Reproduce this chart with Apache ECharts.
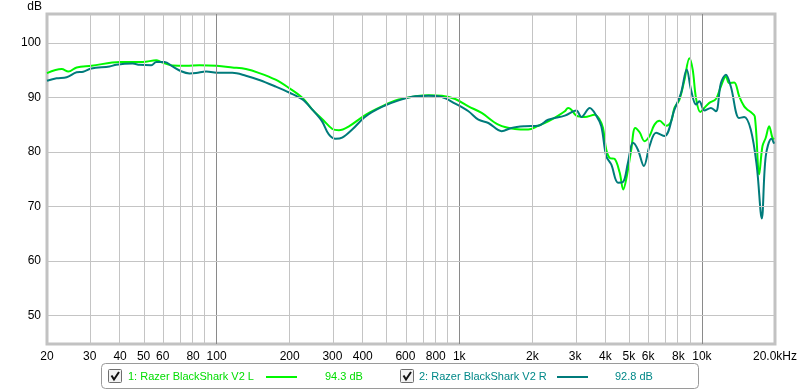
<!DOCTYPE html>
<html>
<head>
<meta charset="utf-8">
<script src="https://cdn.jsdelivr.net/npm/echarts@6/dist/echarts.min.js"></script>
<style>html,body{margin:0;padding:0;background:#fff}#c{width:800px;height:391px}</style>
</head>
<body>
<div id="c"></div>
<script>
// ---- data (frequency in Hz, level in dB) ----
const seriesNames = ['1: Razer BlackShark V2 L', '2: Razer BlackShark V2 R'];
const seriesAvg = ['94.3 dB', '92.8 dB'];

const freqL = [20, 23, 24.5, 26.5, 30.5, 40, 49.6, 56.4, 59, 65.8, 75, 85, 100, 116, 132, 150, 175, 199, 226, 248, 272, 300, 319, 351, 411, 480, 563, 659, 747, 848, 962, 1091, 1237, 1449, 1697, 1924, 2115, 2325, 2556, 2722, 2809, 2897, 3037, 3289, 3615, 3790, 3911, 4034, 4166, 4369, 4581, 4740, 4876, 5112, 5309, 5535, 5801, 6081, 6376, 6687, 7118, 7461, 7705, 8077, 8468, 8880, 9161, 9450, 9850, 10230, 10725, 11415, 11967, 12546, 12955, 13585, 14240, 14930, 15405, 15890, 16510, 17210, 17755, 18320, 18920, 19515, 19830];
const dbL = [94.46, 95.2, 94.75, 95.5, 95.8, 96.5, 96.5, 96.8, 96.5, 95.85, 95.8, 95.9, 95.8, 95.5, 95.2, 94.46, 93.24, 91.7, 89.9, 87.75, 86.05, 84.2, 83.97, 84.7, 86.8, 88.35, 89.6, 90.2, 90.4, 90.3, 89.7, 88.35, 87.15, 85.0, 84.2, 84.1, 84.8, 85.6, 86.65, 87.45, 88.06, 87.75, 86.65, 86.4, 86.8, 85.9, 84.4, 80.4, 78.9, 78.7, 76.2, 73.1, 75.0, 80.4, 84.4, 83.6, 81.95, 82.9, 85.0, 85.7, 84.8, 85.6, 88.06, 89.6, 93.2, 97.2, 95.1, 89.9, 87.3, 88.06, 89.0, 89.7, 92.0, 93.84, 92.6, 92.75, 90.2, 88.35, 87.75, 87.3, 86.5, 75.9, 81.04, 82.6, 84.7, 82.6, 82.3];

const freqR = [20, 21.9, 24.1, 26.5, 28.2, 30.5, 36.2, 38.6, 45.1, 48.1, 53.8, 56.4, 61, 65.8, 71.4, 77.3, 82.3, 90.5, 102.6, 116, 132, 150, 175, 199, 226, 248, 272, 290, 309, 329, 362, 411, 480, 563, 659, 747, 848, 962, 1091, 1199, 1318, 1495, 1643, 1865, 2115, 2325, 2722, 3037, 3185, 3449, 3670, 3848, 4034, 4230, 4508, 4726, 4955, 5195, 5446, 5764, 6081, 6474, 7011, 7705, 8201, 8655, 9015, 9450, 9757, 10230, 10890, 11415, 11967, 12546, 13153, 14240, 14930, 15890, 16825, 17640, 18320, 19330, 19830];
const dbR = [93.05, 93.5, 93.7, 94.6, 94.7, 95.3, 95.67, 96.0, 96.2, 95.98, 95.9, 96.5, 96.5, 95.67, 94.8, 94.4, 94.46, 94.76, 94.5, 94.5, 93.97, 93.2, 92.0, 90.9, 89.6, 87.75, 85.6, 83.2, 82.4, 82.6, 84.1, 86.5, 88.25, 89.45, 90.2, 90.3, 90.07, 88.85, 87.45, 85.9, 85.3, 83.8, 84.4, 84.7, 84.8, 85.9, 86.65, 87.6, 86.4, 88.06, 86.65, 84.7, 79.2, 77.7, 74.35, 74.46, 78.0, 81.66, 80.4, 77.4, 81.04, 83.5, 82.9, 87.75, 90.8, 95.1, 91.4, 88.7, 89.3, 87.6, 88.06, 87.45, 92.6, 94.15, 92.0, 86.2, 86.4, 84.1, 77.4, 67.8, 79.2, 82.4, 81.5];

// axis ticks
const xLabelFreqs = [20, 30, 40, 50, 60, 80, 100, 200, 300, 400, 600, 800, 1000, 2000, 3000, 4000, 5000, 6000, 8000, 10000, 20000];
const xLabelTexts = ['20', '30', '40', '50', '60', '80', '100', '200', '300', '400', '600', '800', '1k', '2k', '3k', '4k', '5k', '6k', '8k', '10k', '20.0kHz'];
const xMinorGrid = [30, 40, 50, 60, 70, 80, 90, 200, 300, 400, 500, 600, 700, 800, 900, 2000, 3000, 4000, 5000, 6000, 7000, 8000, 9000];
const xMajorGrid = [100, 1000, 10000];
const yTicks = [50, 60, 70, 80, 90, 100];
const fMin = 20, fMax = 20000, dbMin = 44.75, dbMax = 105.3;

const GREEN = '#00f800', TEAL = '#007b7b';
const GREEN_T = '#00dd00', TEAL_T = '#008888';
const FONT = 'Liberation Sans';

const lg = Math.log10;
const toPts = (f, d) => f.map((v, i) => [lg(v), d[i]]);
const labelMap = {};
xLabelFreqs.forEach((f, i) => { labelMap[f] = xLabelTexts[i]; });

const chart = echarts.init(document.getElementById('c'), null, {renderer: 'canvas'});

const gridLines = [];
xMinorGrid.forEach(f => gridLines.push({xAxis: lg(f), lineStyle: {color: '#c4c4c4', width: 1, type: 'solid'}}));
xMajorGrid.forEach(f => gridLines.push({xAxis: lg(f), lineStyle: {color: '#8a8a8a', width: 1, type: 'solid'}}));
yTicks.forEach(v => gridLines.push({yAxis: v, lineStyle: {color: '#c4c4c4', width: 1, type: 'solid'}}));

// legend (drawn as graphic)
function checkbox(x, y) {
  return [
    {type: 'rect', shape: {x: x, y: y, width: 13, height: 13, r: 1}, style: {fill: '#f2f2f2', stroke: '#6e6e6e', lineWidth: 1}},
    {type: 'polyline', shape: {points: [[x + 3, y + 6], [x + 5.5, y + 10], [x + 10.5, y + 2.5]]}, style: {stroke: '#111', lineWidth: 2, fill: null}}
  ];
}
const ly = 377;
const LFONT = '11px ' + FONT;
const graphic = [
  {type: 'rect', shape: {x: 101.5, y: 363.5, width: 597, height: 25, r: 4}, style: {fill: '#fff', stroke: '#9a9a9a', lineWidth: 1}},
  ...checkbox(108.5, 369.5),
  {type: 'text', x: 128, y: ly, style: {text: seriesNames[0], fill: GREEN_T, font: LFONT, verticalAlign: 'middle'}},
  {type: 'line', shape: {x1: 266, y1: ly, x2: 297, y2: ly}, style: {stroke: GREEN, lineWidth: 2}},
  {type: 'text', x: 325, y: ly, style: {text: seriesAvg[0], fill: GREEN_T, font: LFONT, verticalAlign: 'middle'}},
  ...checkbox(400.5, 369.5),
  {type: 'text', x: 419, y: ly, style: {text: seriesNames[1], fill: TEAL_T, font: LFONT, verticalAlign: 'middle'}},
  {type: 'line', shape: {x1: 557, y1: ly, x2: 588, y2: ly}, style: {stroke: TEAL, lineWidth: 2}},
  {type: 'text', x: 615, y: ly, style: {text: seriesAvg[1], fill: TEAL_T, font: LFONT, verticalAlign: 'middle'}}
];

chart.setOption({
  animation: false,
  backgroundColor: '#fff',
  textStyle: {fontFamily: FONT},
  grid: {left: 47, right: 22, top: 14, bottom: 47, show: true, borderColor: '#c2c2c2', borderWidth: 3, backgroundColor: '#fff'},
  xAxis: {
    type: 'value', min: lg(fMin), max: lg(fMax),
    axisLine: {show: false}, axisTick: {show: false}, splitLine: {show: false},
    axisLabel: {
      customValues: xLabelFreqs.map(lg),
      formatter: v => labelMap[Math.round(Math.pow(10, v))] || '',
      color: '#000', fontSize: 12, fontFamily: FONT, margin: 7, showMinLabel: true, showMaxLabel: true, hideOverlap: false
    }
  },
  yAxis: {
    type: 'value', min: dbMin, max: dbMax,
    name: 'dB', nameLocation: 'end', nameGap: 1,
    nameTextStyle: {color: '#000', fontSize: 12, fontFamily: FONT, align: 'right', padding: [0, 5, 0, 0]},
    axisLine: {show: false}, axisTick: {show: false}, splitLine: {show: false},
    axisLabel: {customValues: yTicks, formatter: v => String(Math.round(v)), color: '#000', fontSize: 12, fontFamily: FONT, margin: 6}
  },
  graphic: graphic,
  series: [
    {type: 'line', data: [[lg(fMin), dbMin]], symbol: 'none', silent: true, z: 1, lineStyle: {opacity: 0},
     markLine: {silent: true, symbol: 'none', label: {show: false}, animation: false, data: gridLines}},
    {name: seriesNames[0], type: 'line', data: toPts(freqL, dbL), symbol: 'none', smooth: 0.35, z: 3,
     lineStyle: {color: GREEN, width: 2}},
    {name: seriesNames[1], type: 'line', data: toPts(freqR, dbR), symbol: 'none', smooth: 0.35, z: 4,
     lineStyle: {color: TEAL, width: 2}}
  ]
});
</script>
</body>
</html>
